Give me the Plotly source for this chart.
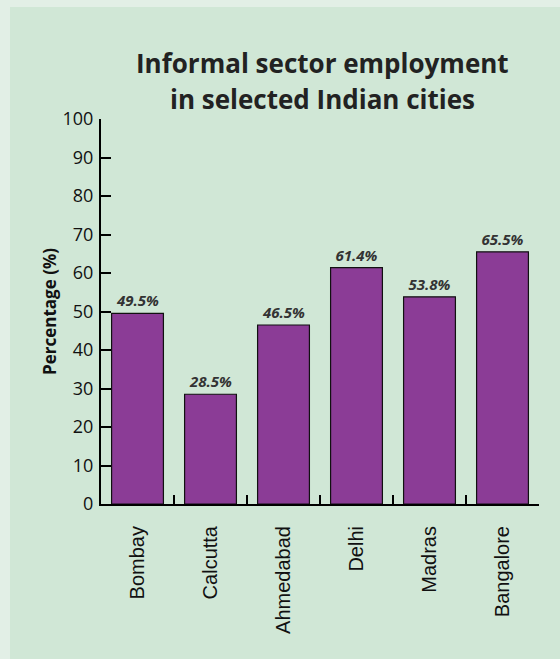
import plotly.graph_objects as go

cities = ["Bombay", "Calcutta", "Ahmedabad", "Delhi", "Madras", "Bangalore"]
values = [49.5, 28.5, 46.5, 61.4, 53.8, 65.5]
y_ticks = [0, 10, 20, 30, 40, 50, 60, 70, 80, 90, 100]
title_lines = ["Informal sector employment", "in selected Indian cities"]

W, H = 560, 659
L, R, T, B = 101, 21, 119, 155
pw, ph = W - L - R, H - T - B

def px_x(x):
    return (x - L) / pw

def px_y(y):
    return (H - B - y) / ph

fig = go.Figure()
fig.add_trace(go.Bar(
    x=cities, y=values,
    marker=dict(color="#8b3c96", line=dict(color="#111111", width=1.2)),
    text=[f"{v}%" for v in values],
    textposition="outside",
    textfont=dict(family="Open Sans", size=15, color="#333333", weight="bold", style="italic"),
    cliponaxis=False,
    width=0.71,
))

fig.add_shape(type="rect", xref="paper", yref="paper",
              x0=px_x(10), x1=px_x(W + 5), y0=px_y(H + 5), y1=px_y(7),
              fillcolor="#d0e7d6", line=dict(width=0), layer="below")

# title lines: baselines near 72 px and 108 px from top
for line, ytop in zip(title_lines, [43, 79]):
    fig.add_annotation(
        text=f"<b>{line}</b>", showarrow=False,
        xref="paper", yref="paper",
        x=px_x(322), xanchor="center",
        y=px_y(ytop), yanchor="top",
        font=dict(family="Open Sans", size=26, color="#222222"),
    )

fig.update_layout(
    width=W, height=H,
    margin=dict(l=L, r=R, t=T, b=B, pad=0),
    paper_bgcolor="#e2efe6",
    plot_bgcolor="rgba(0,0,0,0)",
    showlegend=False,
    xaxis=dict(
        type="category", range=[-0.5, 5.5],
        showline=True, linecolor="#000000", linewidth=2,
        ticks="inside", tickson="boundaries", ticklen=9, tickwidth=2, tickcolor="#000000",
        tickangle=-90, ticklabelstandoff=12,
        tickfont=dict(family="Liberation Sans", size=20, color="#111111"),
        showgrid=False, zeroline=False,
    ),
    yaxis=dict(
        range=[0, 100], tickvals=y_ticks,
        showline=True, linecolor="#000000", linewidth=2,
        ticks="inside", ticklen=10, tickwidth=2, tickcolor="#000000",
        ticklabelstandoff=2,
        tickfont=dict(family="Open Sans", size=18, color="#111111"),
        showgrid=False, zeroline=False,
        title=dict(text="<b>Percentage (%)</b>", standoff=2,
                   font=dict(family="Open Sans", size=17, color="#111111")),
    ),
    bargap=0.29,
)

fig.write_html("out.html")
